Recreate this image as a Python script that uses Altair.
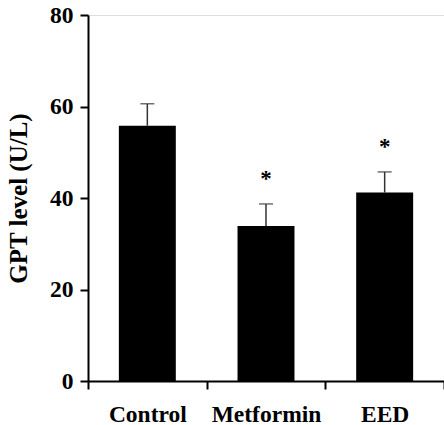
import altair as alt
import pandas as pd

groups = ["Control", "Metformin", "EED"]
means = [55.8, 33.9, 41.2]
upper = [60.6, 38.7, 45.7]
stars = ["", "*", "*"]
star_y = [None, 44.7, 51.8]

df = pd.DataFrame({"group": groups, "mean": means, "upper": upper,
                   "star": stars, "star_y": star_y})

FONT = "Liberation Serif"

x = alt.X("group:N", sort=groups, title=None,
          scale=alt.Scale(paddingInner=0, paddingOuter=0),
          axis=alt.Axis(tickBand="extent", labelAngle=0, labelFont=FONT,
                        labelFontSize=23.5, labelFontWeight="bold", labelColor="black",
                        labelPadding=13, domainColor="black", domainWidth=2,
                        tickColor="black", tickWidth=2, tickSize=8))
y_scale = alt.Scale(domain=[0, 80], nice=False)
y_axis = alt.Axis(values=[0, 20, 40, 60, 80], title="GPT level (U/L)",
                  titleFont=FONT, titleFontSize=25, titleFontWeight="bold",
                  titleColor="black", titlePadding=18,
                  labelFont=FONT, labelFontSize=23.5, labelFontWeight="bold",
                  labelColor="black", labelPadding=7, domainColor="black",
                  domainWidth=2, tickColor="black", tickWidth=2, tickSize=8,
                  grid=False)

base = alt.Chart(df)

err = base.mark_rule(color="#333333", strokeWidth=1.5).encode(
    x=x, y=alt.Y("mean:Q", scale=y_scale, axis=y_axis), y2="upper:Q")
cap = base.mark_tick(color="#333333", thickness=1.5, size=14, orient="horizontal").encode(
    x=x, y=alt.Y("upper:Q", scale=y_scale))
bars = base.mark_bar(color="black", width={"band": 0.48}).encode(
    x=x, y=alt.Y("mean:Q", scale=y_scale, axis=y_axis))
txt = base.mark_text(font=FONT, fontSize=23, fontWeight="bold", color="black",
                     baseline="middle", dy=3).encode(
    x=x, y=alt.Y("star_y:Q", scale=y_scale), text="star:N")

chart = alt.layer(err, cap, bars, txt).properties(
    width=356, height=366,
    autosize=alt.AutoSizeParams(type="none"),
    padding={"left": 88, "top": 15, "right": 0, "bottom": 44},
).configure_view(stroke=None).configure(background="white")

chart.save("out.html", embed_options={"renderer": "svg", "actions": False})
